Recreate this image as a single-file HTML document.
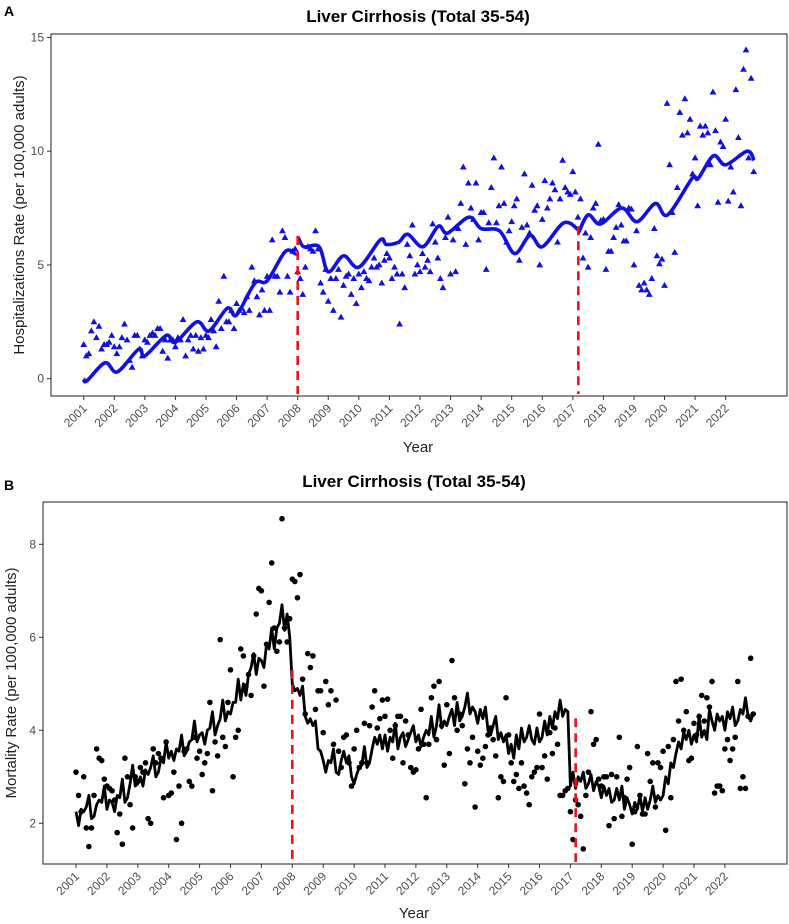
<!DOCTYPE html>
<html><head><meta charset="utf-8"><style>
body{margin:0;background:#fff}
svg{display:block;font-family:"Liberation Sans",Arial,sans-serif}
</style></head><body>
<svg id="chart" width="789" height="924" viewBox="0 0 789 924" xmlns="http://www.w3.org/2000/svg">
<text x="4" y="16" font-size="14" font-weight="bold">A</text>
<text x="418" y="22" font-size="17" font-weight="bold" text-anchor="middle">Liver Cirrhosis (Total 35-54)</text>
<text x="4" y="490" font-size="14" font-weight="bold">B</text>
<text x="414" y="487" font-size="17" font-weight="bold" text-anchor="middle">Liver Cirrhosis (Total 35-54)</text>
<g id="pa"></g>
<g id="pb"></g>
</svg>
<script>
const years = [2001,2002,2003,2004,2005,2006,2007,2008,2009,2010,2011,2012,2013,2014,2015,2016,2017,2018,2019,2020,2021,2022];
const interruptionsA = [[2008.0,6.27],[2017.18,6.7]];
const interruptionsB = [[2008.0,5.3],[2017.17,4.26]];
const ticksA = [0,5,10,15];
const ticksB = [2,4,6,8];
const scatterA = [
1.5,1.0,1.1,2.1,2.5,1.8,2.3,1.3,1.5,1.5,1.6,1.9,
1.4,1.1,1.4,1.8,2.4,1.7,0.8,0.5,1.9,1.9,1.3,1.0,
1.7,1.6,1.9,2.0,1.9,2.2,2.2,1.2,1.7,0.9,1.7,1.7,
1.4,1.8,1.7,2.6,1.0,1.7,1.9,1.3,1.9,1.2,1.8,1.3,
1.9,1.8,2.6,2.1,1.4,3.4,2.2,4.5,2.5,2.5,3.0,2.2,
3.3,3.0,3.1,2.9,3.6,3.0,4.9,4.3,3.6,2.8,3.9,3.0,
4.5,3.0,6.1,4.5,4.5,3.8,6.5,6.2,4.5,3.8,5.6,5.7,
4.7,4.4,3.7,4.9,5.8,5.7,5.6,6.5,5.7,4.2,3.8,4.8,
3.4,4.4,3.0,4.4,4.8,2.7,4.1,4.5,4.6,3.7,4.4,3.3,
4.6,4.0,4.7,4.4,4.3,4.9,5.3,4.9,5.0,4.2,5.2,5.5,
5.3,4.4,4.9,4.6,2.4,4.6,4.0,5.9,5.4,6.75,4.6,5.0,
4.7,5.5,4.9,5.2,4.7,6.8,6.0,5.3,4.4,4.0,6.2,7.1,
4.6,6.1,4.7,6.6,7.7,9.3,5.9,8.6,7.5,7.0,8.6,6.1,
7.3,7.3,4.8,6.85,8.4,9.7,6.85,7.6,9.3,7.7,6.0,6.5,
6.9,7.6,7.9,5.2,6.65,9.0,6.75,6.4,8.5,7.4,7.6,5.0,
7.0,8.7,7.5,7.9,8.6,8.3,6.0,7.9,9.6,8.4,8.2,8.1,
9.1,8.2,7.1,7.9,5.3,6.4,4.9,6.2,7.5,7.7,10.3,6.95,
7.0,4.8,5.6,5.6,6.2,6.65,7.65,6.75,6.05,6.05,7.5,7.45,
5.0,6.5,4.1,3.9,4.2,3.9,3.7,4.4,6.6,5.4,5.05,5.25,
4.1,12.1,9.4,7.3,5.55,8.4,11.7,10.7,12.3,10.8,11.4,9.0,
9.7,7.6,11.1,10.7,11.1,10.8,9.4,12.6,10.9,7.75,10.4,10.2,
11.4,7.8,9.3,8.2,12.7,10.6,7.6,13.6,14.45,9.7,13.2,9.1];
const lineAYears = [2001.0,2001.1,2001.7,2002.1,2002.8,2003.0,2003.7,2004.0,2004.7,2005.1,2005.7,2006.0,2006.6,2007.0,2007.6,2007.97,
 2008.0,2008.2,2008.7,2009.0,2009.5,2010.0,2010.7,2010.9,2011.3,2011.6,2012.1,2012.6,2012.9,2013.6,2014.0,2014.6,2015.1,2015.6,2016.0,2016.7,2017.17,
 2017.18,2017.5,2017.9,2018.6,2019.1,2019.7,2020.1,2020.9,2021.1,2021.6,2022.0,2022.7,2022.93];
const lineAVals = [0.0,-0.1,0.7,0.3,1.3,1.0,1.9,1.6,2.5,2.1,3.1,2.8,4.2,4.3,5.6,5.5,
 6.2,5.8,5.8,4.7,5.4,4.9,6.1,5.9,6.0,6.35,5.8,6.7,6.4,7.1,6.6,6.5,5.5,6.3,5.8,6.85,6.55,
 6.4,7.2,6.8,7.5,6.9,7.7,7.2,8.8,8.8,9.8,9.4,10.0,9.6];
const scatterB = [
3.1,2.6,2.25,3.0,1.9,1.5,1.9,2.6,3.6,3.4,3.35,2.95,
2.8,2.75,2.7,2.5,1.8,2.2,1.55,3.4,3.0,2.4,1.9,3.0,
2.9,3.2,3.1,3.3,2.1,2.0,3.6,3.3,3.5,3.4,2.55,3.75,
2.6,2.65,3.1,1.65,2.8,2.0,3.55,3.6,2.9,2.8,3.85,3.4,
3.55,3.05,3.3,3.5,4.6,2.7,3.75,3.45,5.95,3.85,3.65,4.6,
5.3,3.0,3.85,4.0,5.75,5.6,4.95,5.2,4.75,5.6,6.5,7.05,
7.0,4.95,5.85,6.75,7.6,6.2,5.7,5.9,8.55,6.2,5.9,6.4,
7.25,7.2,6.85,7.35,5.1,4.35,5.65,5.35,5.6,4.45,4.85,4.85,
3.95,5.05,4.55,4.85,3.7,4.65,3.55,3.2,3.85,3.9,3.3,2.8,
3.6,4.0,3.2,3.3,4.15,3.3,4.1,4.5,4.85,4.05,4.25,4.65,
4.3,4.67,4.0,3.4,4.1,4.3,4.3,3.3,4.2,3.9,3.2,3.1,
3.15,3.6,4.45,3.7,2.55,3.7,4.7,4.95,3.8,5.05,4.1,3.25,
4.55,3.5,5.5,4.7,4.0,4.35,4.1,2.85,3.6,3.3,3.85,2.35,
3.55,3.25,3.4,3.65,3.9,4.05,3.8,3.45,2.55,3.0,2.9,4.7,
3.9,3.3,2.9,3.05,2.75,3.3,2.8,2.65,2.4,3.0,3.1,3.2,
4.35,3.2,3.45,2.95,3.95,3.5,4.05,3.7,2.6,2.6,2.7,2.75,
2.25,1.65,2.5,2.4,2.15,1.45,2.6,3.1,4.4,3.7,3.8,2.95,
2.8,3.0,3.0,1.95,3.05,2.1,3.0,3.85,2.15,2.55,2.95,3.2,
1.55,2.25,3.65,2.6,2.2,2.2,3.5,2.9,3.3,2.35,3.3,3.2,
3.55,1.85,3.65,2.55,3.8,5.05,4.2,5.1,4.0,4.4,3.35,3.4,
4.15,3.9,4.3,4.75,4.2,4.7,4.5,5.05,2.65,2.8,2.8,2.7,
3.6,3.8,3.35,3.6,3.85,5.05,2.75,3.0,2.75,4.3,5.55,4.35];
const lineB = [
2.25,1.95,2.3,2.25,2.35,2.6,2.1,2.15,2.4,2.5,2.45,2.8,
2.3,2.5,2.45,2.25,2.6,2.55,2.95,2.45,2.55,2.85,3.25,2.8,
2.85,3.0,2.8,3.15,3.05,3.2,3.45,3.0,3.1,3.4,3.3,3.75,
3.4,3.55,3.35,3.6,3.55,3.9,3.45,3.55,3.75,3.8,4.2,3.75,
3.9,3.95,3.7,4.0,4.05,4.4,3.9,4.1,4.25,4.65,4.2,4.4,
4.35,4.6,4.6,5.1,4.65,5.0,4.75,5.2,5.35,5.65,5.2,5.55,
5.5,5.35,5.85,5.75,6.2,5.75,6.2,6.3,6.7,6.15,6.5,6.0,
5.0,4.85,4.9,4.75,4.95,4.3,4.15,4.25,4.1,4.2,3.6,3.55,
3.35,3.1,3.35,3.3,3.6,3.1,3.05,3.35,3.55,3.3,3.45,3.0,
2.85,3.05,3.2,3.25,3.65,3.2,3.3,3.6,3.85,3.7,3.9,3.6,
3.9,3.55,3.85,3.75,4.15,3.6,3.85,3.95,3.65,3.8,3.95,4.1,
3.75,3.9,3.65,3.85,4.0,3.9,4.3,3.85,4.1,4.55,4.05,4.2,
4.1,4.3,4.45,4.1,4.6,4.2,4.3,4.5,4.8,4.35,4.5,4.4,
4.15,4.45,4.25,4.5,4.0,3.9,4.1,4.3,3.8,3.95,3.75,3.9,
3.5,3.7,3.4,3.9,3.6,4.05,3.75,3.85,4.1,3.8,3.7,4.05,
3.75,3.85,4.2,3.9,4.3,4.05,4.4,4.25,4.65,4.3,4.45,4.4,
2.8,3.1,2.75,3.0,2.9,3.1,2.75,2.85,3.05,2.7,2.9,2.8,
2.55,2.8,2.6,2.75,2.45,2.5,2.75,2.5,2.8,2.3,2.55,2.4,
2.2,2.45,2.3,2.6,2.25,2.55,2.3,2.5,2.8,2.45,2.6,2.5,
2.6,3.0,2.85,3.3,3.2,3.5,3.75,3.6,3.95,3.8,4.0,3.7,
3.9,3.75,4.3,3.85,4.0,3.8,4.45,4.2,4.0,4.35,4.2,4.3,
4.0,4.4,4.25,4.5,4.1,4.2,4.45,4.35,4.7,4.3,4.2,4.35];

const NS="http://www.w3.org/2000/svg";
function mk(parent,tag,attrs){const e=document.createElementNS(NS,tag);for(const k in attrs)e.setAttribute(k,attrs[k]);parent.appendChild(e);return e;}

function panel(g,o){
  const xs=v=>o.x0+(v-2001)*o.xk;
  const ys=v=>o.y0-(v-o.yb)*o.yk;
  const fr=mk(g,'rect',{x:o.L,y:o.T,width:o.R-o.L,height:o.B-o.T,fill:'none',stroke:'#333','stroke-width':1.1});
  
  
  o.yticks.forEach(t=>{
    const y=ys(t);
    const l=mk(g,'line',{x1:o.L-4,x2:o.L,y1:y,y2:y,stroke:'#333'});
    
    
    const tx=mk(g,'text',{x:o.L-7,y:y+4,'font-size':12,fill:'#4d4d4d','text-anchor':'end'});
    tx.textContent=t;
    
    
  });
  years.forEach(yr=>{
    const x=xs(yr);
    const l=mk(g,'line',{x1:x,x2:x,y1:o.B,y2:o.B+4,stroke:'#333'});
    
    
    const tx=mk(g,'text',{x:x+4,y:o.B+13,'font-size':12,fill:'#4d4d4d','text-anchor':'end',transform:`rotate(-45 ${x+4} ${o.B+13})`});
    tx.textContent=yr;
    
    
  });
  const xt=mk(g,'text',{x:o.xtX,y:o.xtY,'font-size':15,fill:'#222','text-anchor':'middle'});
  xt.textContent='Year';
  
  
  const cy=(o.T+o.B)/2;
  const yt=mk(g,'text',{x:o.ytX,y:cy,'font-size':15,fill:'#222','text-anchor':'middle',transform:`rotate(-90 ${o.ytX} ${cy})`});
  yt.textContent=o.ytitle;
  
  
  // points
  o.scatter.forEach((v,i)=>{
    const x=xs(2001+i/12), y=ys(v);
    let p;
    if(o.tri){p=mk(g,'polygon',{points:`${x},${y-3.6} ${x-3.4},${y+2.4} ${x+3.4},${y+2.4}`,fill:o.col});}
    else{p=mk(g,'circle',{cx:x,cy:y,r:2.8,fill:'#000'});}
    
    
  });
  // line
  let d='';
  if(o.smooth){
    const P=o.lx.map((t,i)=>[xs(t),ys(o.lv[i])]);
    d='M'+P[0][0]+','+P[0][1];
    for(let i=0;i<P.length-1;i++){
      if(o.breaks.includes(i)){d+=' M'+P[i+1][0]+','+P[i+1][1];continue;}
      const p0=P[Math.max(i-1,0)],p1=P[i],p2=P[i+1],p3=P[Math.min(i+2,P.length-1)];
      const c1=[p1[0]+(p2[0]-p0[0])/6,p1[1]+(p2[1]-p0[1])/6];
      const c2=[p2[0]-(p3[0]-p1[0])/6,p2[1]-(p3[1]-p1[1])/6];
      d+=` C${c1[0]},${c1[1]} ${c2[0]},${c2[1]} ${p2[0]},${p2[1]}`;
    }
  } else {
    o.lv.forEach((v,i)=>{d+=(i?' L':'M')+xs(2001+i/12)+','+ys(v);});
  }
  const ln=mk(g,'path',{d:d,fill:'none',stroke:o.col,'stroke-width':o.lw,'stroke-linejoin':'round'});
  
  
  o.inter.forEach(q=>{
    const l=mk(g,'line',{x1:xs(q[0]),x2:xs(q[0]),y1:ys(q[1]),y2:o.B-2,stroke:'#e8141c','stroke-width':2.6,'stroke-dasharray':'9,6'});
    
    
  });
}
panel(document.getElementById('pa'),{L:51,T:34,R:787,B:396,x0:83.7,xk:30.57,y0:378.7,yb:0,yk:22.75,yticks:ticksA,
  scatter:scatterA,tri:true,col:'#1010e0',smooth:true,lx:lineAYears,lv:lineAVals,breaks:[15,36],lw:3.6,inter:interruptionsA,
  xtX:418,xtY:452,ytX:24,ytitle:'Hospitalizations Rate (per 100,000 adults)'});
panel(document.getElementById('pb'),{L:43,T:502,R:787,B:864,x0:76,xk:30.9,y0:823.3,yb:2,yk:46.5,yticks:ticksB,
  scatter:scatterB,tri:false,col:'#000',smooth:false,lv:lineB,lw:2.8,inter:interruptionsB,
  xtX:414,xtY:918,ytX:16,ytitle:'Mortality Rate (per 100,000 adults)'});
</script>
</body></html>
